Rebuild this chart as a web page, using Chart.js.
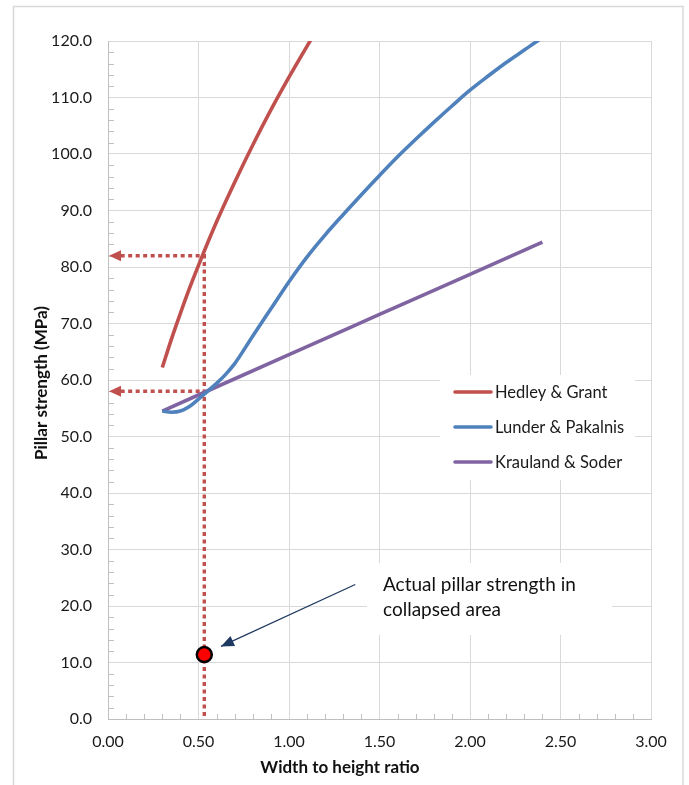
<!DOCTYPE html>
<html>
<head>
<meta charset="utf-8">
<script src="https://cdn.jsdelivr.net/npm/chart.js@4.4.0/dist/chart.umd.min.js"></script>
<style>
  body { margin: 0; background: #fff; }
  #wrap { width: 689px; height: 785px; }
</style>
</head>
<body>
<div id="wrap"><canvas id="myChart" width="689" height="785"></canvas></div>
<script>
// Data
const seriesNames = ["Hedley & Grant", "Lunder & Pakalnis", "Krauland & Soder"];
const seriesColors = ["#C0504D", "#4F81BD", "#8064A2"];

const hedleyX = [0.30, 0.35, 0.40, 0.45, 0.50, 0.60, 0.70, 0.80, 0.90, 1.00, 1.10, 1.20];
const hedleyY = [62.2, 67.2, 71.8, 76.2, 80.3, 88.0, 95.0, 101.6, 107.8, 113.6, 119.1, 124.4];

const lunderX = [0.30, 0.35, 0.40, 0.45, 0.50, 0.55, 0.60, 0.65, 0.70, 0.80, 0.90, 1.00, 1.10, 1.20,
                 1.30, 1.40, 1.50, 1.60, 1.70, 1.80, 1.90, 2.00, 2.10, 2.20, 2.30, 2.40, 2.50];
const lunderY = [54.5, 54.3, 54.5, 55.3, 56.6, 58.0, 59.4, 61.0, 62.9, 67.8, 72.6, 77.4, 81.8, 85.7,
                 89.3, 92.8, 96.2, 99.5, 102.6, 105.6, 108.5, 111.3, 113.8, 116.2, 118.4, 120.6, 122.7];

const krauX = [0.30, 1.00, 1.50, 2.00, 2.40];
const krauY = [54.5, 64.5, 71.6, 78.7, 84.4];

// design ratio and the readings taken off the curves
const readX = [0.532];
const readY = [82.0, 58.0];
const actualX = [0.532];
const actualY = [11.4];

// annotation arrow (from text to the point)
const noteArrowX = [1.366, 0.624];
const noteArrowY = [23.8, 12.85];
const noteText = ["Actual pillar strength in", "collapsed area"];

const xTicks = [0, 3, 0.5];   // min, max, step
const yTicks = [0, 120, 10];

function pts(xs, ys) {
    let out = [];
    for (let i = 0; i < xs.length; i++) out.push({x: xs[i], y: ys[i]});
    return out;
}

const FONT = "Lato, 'Open Sans', sans-serif";
const GRID = "#D9D9D9";
const AXIS = "#BFBFBF";
const RED = seriesColors[0];

function curve(i, xs, ys) {
    return {
        label: seriesNames[i],
        data: pts(xs, ys),
        borderColor: seriesColors[i],
        backgroundColor: seriesColors[i],
        borderWidth: 3.6,
        pointRadius: 0,
        cubicInterpolationMode: 'monotone',
        showLine: true,
        clip: 0
    };
}

const extras = {
    id: 'extras',
    beforeDraw(chart) {
        const ctx = chart.ctx;
        ctx.save();
        ctx.fillStyle = "#fff";
        ctx.fillRect(0, 0, chart.width, chart.height);
        ctx.strokeStyle = GRID;
        ctx.lineWidth = 1.5;
        ctx.strokeRect(13.5, 6.5, 669.5, 800);
        ctx.restore();
    },
    beforeDatasetsDraw(chart) {
        // minor tick marks, inside the plot
        const ctx = chart.ctx;
        const xs = chart.scales.x, ys = chart.scales.y;
        const a = chart.chartArea;
        ctx.save();
        ctx.strokeStyle = AXIS;
        ctx.lineWidth = 1;
        ctx.beginPath();
        for (let v = yTicks[0]; v <= yTicks[1]; v += 2) {
            if (v % yTicks[2] === 0) continue;
            const py = Math.round(ys.getPixelForValue(v)) + 0.5;
            ctx.moveTo(a.left, py);
            ctx.lineTo(a.left + 6, py);
        }
        for (let k = 0; k <= 30; k++) {
            if (k % 5 === 0) continue;
            const px = Math.round(xs.getPixelForValue(k / 10)) + 0.5;
            ctx.moveTo(px, a.bottom);
            ctx.lineTo(px, a.bottom - 5);
        }
        ctx.stroke();
        ctx.restore();
    },
    afterDatasetsDraw(chart) {
        const ctx = chart.ctx;
        const xs = chart.scales.x, ys = chart.scales.y;
        ctx.save();

        // red arrow heads at the y axis
        ctx.fillStyle = RED;
        for (let i = 0; i < readY.length; i++) {
            const py = ys.getPixelForValue(readY[i]);
            const px = xs.getPixelForValue(0) + 1;
            ctx.beginPath();
            ctx.moveTo(px, py);
            ctx.lineTo(px + 12, py - 5.5);
            ctx.lineTo(px + 12, py + 5.5);
            ctx.closePath();
            ctx.fill();
        }

        // arrow head of the note
        const x0 = xs.getPixelForValue(noteArrowX[0]), y0 = ys.getPixelForValue(noteArrowY[0]);
        const x1 = xs.getPixelForValue(noteArrowX[1]), y1 = ys.getPixelForValue(noteArrowY[1]);
        const ang = Math.atan2(y1 - y0, x1 - x0);
        ctx.fillStyle = "#1F3A60";
        ctx.beginPath();
        ctx.moveTo(x1, y1);
        ctx.lineTo(x1 - 13 * Math.cos(ang) + 5.5 * Math.sin(ang), y1 - 13 * Math.sin(ang) - 5.5 * Math.cos(ang));
        ctx.lineTo(x1 - 13 * Math.cos(ang) - 5.5 * Math.sin(ang), y1 - 13 * Math.sin(ang) + 5.5 * Math.cos(ang));
        ctx.closePath();
        ctx.fill();

        // note text box
        ctx.fillStyle = "#fff";
        ctx.fillRect(367, 563, 245, 72);
        ctx.fillStyle = "#111";
        ctx.font = "19px " + FONT;
        ctx.textAlign = "left";
        ctx.textBaseline = "alphabetic";
        ctx.fillText(noteText[0], 383, 591);
        ctx.fillText(noteText[1], 383, 616);

        // legend
        ctx.fillStyle = "#fff";
        ctx.fillRect(440, 375, 195, 105);
        ctx.font = "16.5px " + FONT;
        ctx.textBaseline = "middle";
        for (let i = 0; i < seriesNames.length; i++) {
            const ly = 392 + i * 35;
            ctx.strokeStyle = seriesColors[i];
            ctx.lineWidth = 3.6;
            ctx.lineCap = "round";
            ctx.beginPath();
            ctx.moveTo(455, ly);
            ctx.lineTo(491, ly);
            ctx.stroke();
            ctx.fillStyle = "#1a1a1a";
            ctx.fillText(seriesNames[i], 495, ly + 1);
        }

        // axis titles
        ctx.font = "bold 17px " + FONT;
        ctx.fillStyle = "#111";
        ctx.textAlign = "center";
        ctx.fillText("Width to height ratio", 340, 768);
        ctx.translate(42, 383);
        ctx.rotate(-Math.PI / 2);
        ctx.fillText("Pillar strength (MPa)", 0, 0);
        ctx.restore();
    }
};

const ctx = document.getElementById("myChart");

const data = {
    datasets: [
        curve(0, hedleyX, hedleyY),
        curve(1, lunderX, lunderY),
        curve(2, krauX, krauY),
        {
            label: 'actual',
            data: pts(actualX, actualY),
            pointRadius: 7.5,
            pointBackgroundColor: "#FF0000",
            pointBorderColor: "#000",
            pointBorderWidth: 2.5,
            showLine: false
        },
        {
            label: 'note',
            data: pts(noteArrowX, noteArrowY),
            borderColor: "#1F3A60",
            borderWidth: 1.3,
            pointRadius: 0,
            showLine: true
        },
        {
            label: 'read1',
            data: [{x: 0.07, y: readY[0]}, {x: readX[0], y: readY[0]}, {x: readX[0], y: 0}],
            borderColor: RED,
            borderWidth: 3.4,
            borderDash: [4, 3.5],
            pointRadius: 0,
            showLine: true
        },
        {
            label: 'read2',
            data: [{x: 0.07, y: readY[1]}, {x: readX[0], y: readY[1]}],
            borderColor: RED,
            borderWidth: 3.4,
            borderDash: [4, 3.5],
            pointRadius: 0,
            showLine: true
        }
    ]
};

const config = {
    type: 'scatter',
    data: data,
    options: {
        responsive: false,
        animation: false,
        layout: { padding: { top: 41, right: 38, left: 0, bottom: 0 } },
        plugins: {
            legend: { display: false },
            tooltip: { enabled: false }
        },
        scales: {
            x: {
                type: 'linear',
                min: xTicks[0],
                max: xTicks[1],
                afterFit: function (s) { s.height = 66; },
                grid: { color: GRID, drawTicks: false },
                border: { color: AXIS },
                ticks: {
                    stepSize: xTicks[2],
                    padding: 13,
                    color: "#1a1a1a",
                    font: { family: FONT, size: 16 },
                    callback: function (v) { return v.toFixed(2); }
                }
            },
            y: {
                type: 'linear',
                min: yTicks[0],
                max: yTicks[1],
                afterFit: function (s) { s.width = 108; },
                grid: { color: GRID, drawTicks: false },
                border: { color: AXIS },
                ticks: {
                    stepSize: yTicks[2],
                    padding: 16,
                    color: "#1a1a1a",
                    font: { family: FONT, size: 16 },
                    callback: function (v) { return v.toFixed(1); }
                }
            }
        }
    },
    plugins: [extras]
};

const chart = new Chart(ctx, config);
</script>
</body>
</html>
